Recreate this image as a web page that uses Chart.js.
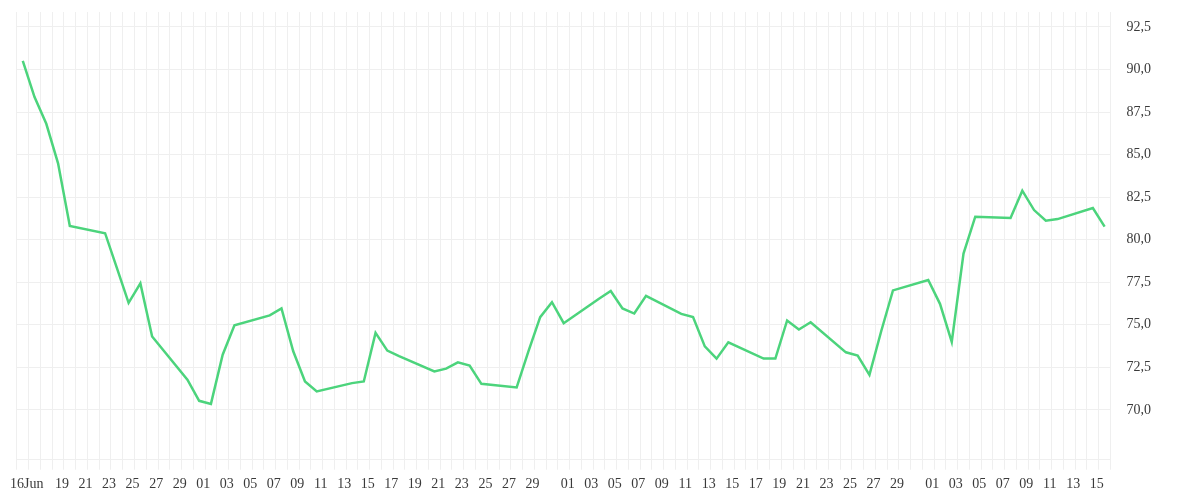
<!DOCTYPE html>
<html>
<head>
<meta charset="utf-8">
<script src="https://cdn.jsdelivr.net/npm/chart.js@4.4.1/dist/chart.umd.min.js"></script>
<style>
    html, body { margin: 0; padding: 0; background: #fff; }
    #wrap { width: 1200px; height: 500px; position: relative; }
</style>
</head>
<body>
<div id="wrap"><canvas id="chart"></canvas></div>
<script>
// Trading days and closing values
const tradingDays = [
    '2025-06-16', '2025-06-17', '2025-06-18', '2025-06-19', '2025-06-20',
    '2025-06-23', '2025-06-24', '2025-06-25', '2025-06-26', '2025-06-27', '2025-06-30',
    '2025-07-01', '2025-07-02', '2025-07-03', '2025-07-04',
    '2025-07-07', '2025-07-08', '2025-07-09', '2025-07-10', '2025-07-11',
    '2025-07-14', '2025-07-15', '2025-07-16', '2025-07-17', '2025-07-18',
    '2025-07-21', '2025-07-22', '2025-07-23', '2025-07-24', '2025-07-25',
    '2025-07-28', '2025-07-29', '2025-07-30', '2025-07-31', '2025-08-01',
    '2025-08-04', '2025-08-05', '2025-08-06', '2025-08-07', '2025-08-08',
    '2025-08-11', '2025-08-12', '2025-08-13', '2025-08-14', '2025-08-15',
    '2025-08-18', '2025-08-19', '2025-08-20', '2025-08-21', '2025-08-22',
    '2025-08-25', '2025-08-26', '2025-08-27', '2025-08-28', '2025-08-29',
    '2025-09-01', '2025-09-02', '2025-09-03', '2025-09-04', '2025-09-05',
    '2025-09-08', '2025-09-09', '2025-09-10', '2025-09-11', '2025-09-12',
    '2025-09-15', '2025-09-16'
];

const closeValues = [
    90.51, 88.38, 86.81, 84.49, 80.80,
    80.38, 78.34, 76.29, 77.43, 74.31, 71.77,
    70.53, 70.35, 73.24, 74.97,
    75.55, 75.96, 73.44, 71.67, 71.08,
    71.57, 71.67, 74.52, 73.48, 73.16,
    72.26, 72.42, 72.79, 72.60, 71.53,
    71.32, 73.44, 75.45, 76.33, 75.09,
    76.53, 76.98, 75.96, 75.66, 76.70,
    75.64, 75.45, 73.73, 73.01, 73.97,
    73.01, 73.01, 75.25, 74.72, 75.15,
    73.38, 73.19, 72.06, 74.62, 77.02,
    77.63, 76.23, 73.99, 79.18, 81.35,
    81.27, 82.88, 81.74, 81.11, 81.21,
    81.86, 80.77
];

const monthNames = ['Jan', 'Feb', 'Mar', 'Apr', 'May', 'Jun', 'Jul', 'Aug', 'Sep', 'Oct', 'Nov', 'Dec'];
const yTicks = [70, 72.5, 75, 77.5, 80, 82.5, 85, 87.5, 90, 92.5];

// Every calendar day between first and last trading day is a category
const calendarDays = [];
for (let d = new Date(tradingDays[0] + 'T00:00:00Z');
     d <= new Date(tradingDays[tradingDays.length - 1] + 'T00:00:00Z');
     d.setUTCDate(d.getUTCDate() + 1)) {
    calendarDays.push(d.toISOString().slice(0, 10));
}

const valueByDay = {};
tradingDays.forEach((day, i) => { valueByDay[day] = closeValues[i]; });
const seriesData = calendarDays.map(day => (day in valueByDay ? valueByDay[day] : null));

const gridColor = '#efefef';

new Chart(document.getElementById('chart'), {
    type: 'line',
    data: {
        labels: calendarDays,
        datasets: [{
            data: seriesData,
            borderColor: '#4cd47c',
            borderWidth: 2.5,
            pointRadius: 0,
            pointHoverRadius: 0,
            tension: 0,
            spanGaps: true,
            fill: false
        }]
    },
    options: {
        responsive: true,
        maintainAspectRatio: false,
        animation: false,
        layout: { padding: { left: 10.5, right: 33, top: 12, bottom: 1.5 } },
        plugins: {
            legend: { display: false },
            tooltip: { enabled: false }
        },
        scales: {
            x: {
                type: 'category',
                offset: true,
                grid: { color: gridColor, offset: true, tickLength: 10, drawTicks: true },
                border: { color: gridColor },
                ticks: {
                    autoSkip: false,
                    maxRotation: 0,
                    minRotation: 0,
                    padding: 6,
                    labelOffset: 4,
                    color: '#3a3a3a',
                    font: { family: '"Liberation Serif", serif', size: 14 },
                    callback: function (value, index) {
                        const day = calendarDays[index];
                        const dd = Number(day.slice(8, 10));
                        if (index === 0) return dd + monthNames[Number(day.slice(5, 7)) - 1];
                        if (index === 1) return '';
                        return (dd % 2 === 1 && dd !== 31) ? String(dd).padStart(2, '0') : '';
                    }
                }
            },
            y: {
                position: 'right',
                min: 67.07,
                max: 93.38,
                grid: { color: gridColor, drawTicks: false },
                border: { color: gridColor },
                afterBuildTicks: scale => {
                    scale.ticks = yTicks.map(v => ({ value: v }));
                },
                // label padding should only push labels sideways, not shrink the plot
                afterFit: scale => {
                    scale.paddingTop = 0;
                    scale.paddingBottom = 0;
                },
                ticks: {
                    padding: 16,
                    color: '#3a3a3a',
                    font: { family: '"Liberation Serif", serif', size: 14 },
                    callback: v => v.toFixed(1).replace('.', ',')
                }
            }
        }
    }
});
</script>
</body>
</html>
